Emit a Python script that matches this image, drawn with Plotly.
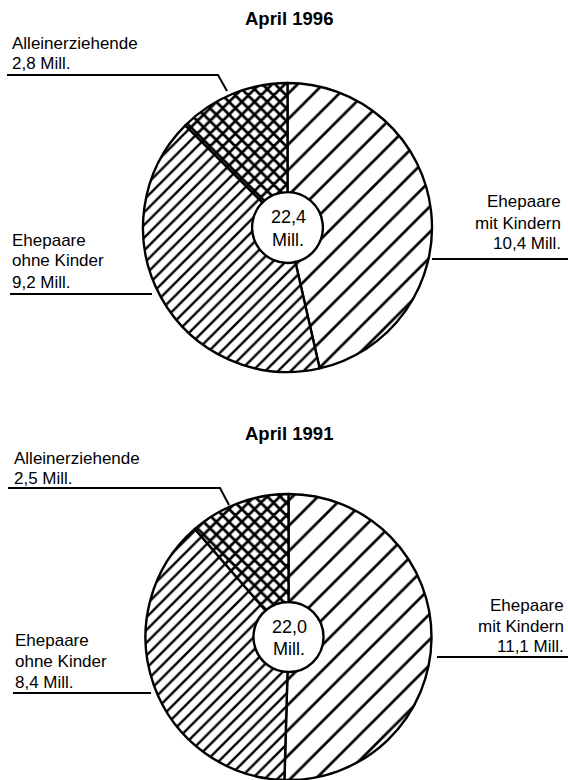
import plotly.graph_objects as go

# ---- data ----
years = ["April 1996", "April 1991"]
categories = ["Ehepaare mit Kindern", "Ehepaare ohne Kinder", "Alleinerziehende"]
values_1996 = [10.4, 9.2, 2.8]
values_1991 = [11.1, 8.4, 2.5]
totals = [22.4, 22.0]

W, H = 568, 780
FONT = "Liberation Sans, Arial, sans-serif"


def px(x):
    return x / W


def py(y):
    return 1 - y / H


def fmt(v):
    return f"{v:.1f}".replace(".", ",") + " Mill."


fig = go.Figure()

# pie geometry (pixels): center x, center y, radius
geoms = [(287.5, 227.5, 144.5), (288.5, 638.0, 144.0)]

for vals, (cx, cy, r) in zip([values_1996, values_1991], geoms):
    fig.add_trace(go.Pie(
        labels=categories,
        values=vals,
        sort=False,
        direction="clockwise",
        rotation=0,
        hole=0.245,
        textinfo="none",
        hoverinfo="label+value",
        showlegend=False,
        domain=dict(x=[px(cx - r), px(cx + r)],
                    y=[max(0, py(cy + r)), min(1, py(cy - r))]),
        marker=dict(
            colors=["white", "white", "white"],
            line=dict(color="black", width=2.4),
            pattern=dict(shape=["/", "/", "x"],
                         size=[18, 9, 9],
                         solidity=[0.15, 0.26, 0.52],
                         fgcolor="black",
                         bgcolor="white"),
        ),
    ))

annotations = []
shapes = []


def text(x, y, s, anchor="left", size=17, bold=False):
    annotations.append(dict(
        x=px(x), y=py(y), xref="paper", yref="paper",
        text=f"<b>{s}</b>" if bold else s,
        showarrow=False, xanchor=anchor, yanchor="middle",
        font=dict(family=FONT, size=size, color="black"),
    ))


def path(pts):
    d = "M " + " L ".join(f"{px(x)} {py(y)}" for x, y in pts)
    shapes.append(dict(type="path", path=d, xref="paper", yref="paper",
                       line=dict(color="black", width=2)))


layouts = [
    dict(title_y=18, allein=(10, 43, 63), allein_line=[(7, 75), (218, 75), (227, 91)],
         right=(563, 202), right_line=[(432, 259), (568, 259)],
         left=(10, 240), left_line=[(10, 294), (152, 294)],
         center=(288, 217, 240)),
    dict(title_y=433, allein=(12, 458, 478), allein_line=[(8, 488), (220, 488), (229, 505)],
         right=(566, 605), right_line=[(437, 657), (568, 657)],
         left=(13, 640), left_line=[(13, 693), (151, 693)],
         center=(289, 627, 649)),
]

for yr, vals, tot, L in zip(years, [values_1996, values_1991], totals, layouts):
    text(289, L["title_y"], yr, anchor="center", size=18.5, bold=True)
    ax, ay1, ay2 = L["allein"]
    text(ax, ay1, categories[2])
    text(ax, ay2, fmt(vals[2]))
    path(L["allein_line"])
    rx, ry = L["right"]
    text(rx, ry, "Ehepaare", anchor="right")
    text(rx, ry + 21, "mit Kindern", anchor="right")
    text(rx, ry + 41, fmt(vals[0]), anchor="right")
    path(L["right_line"])
    lx, ly = L["left"]
    text(lx, ly, "Ehepaare")
    text(lx, ly + 21, "ohne Kinder")
    text(lx, ly + 42, fmt(vals[1]))
    path(L["left_line"])
    cx, c1, c2 = L["center"]
    text(cx, c1, f"{tot:.1f}".replace(".", ","), anchor="center", size=18)
    text(cx, c2, "Mill.", anchor="center", size=18)

fig.update_layout(
    width=W, height=H,
    margin=dict(l=0, r=0, t=0, b=0),
    paper_bgcolor="white", plot_bgcolor="white",
    annotations=annotations, shapes=shapes,
    font=dict(family=FONT, color="black"),
)

fig.write_html(
    "out.html",
    config={"displayModeBar": False},
    post_script="document.body.style.margin='0';document.body.style.overflow='hidden';",
)
